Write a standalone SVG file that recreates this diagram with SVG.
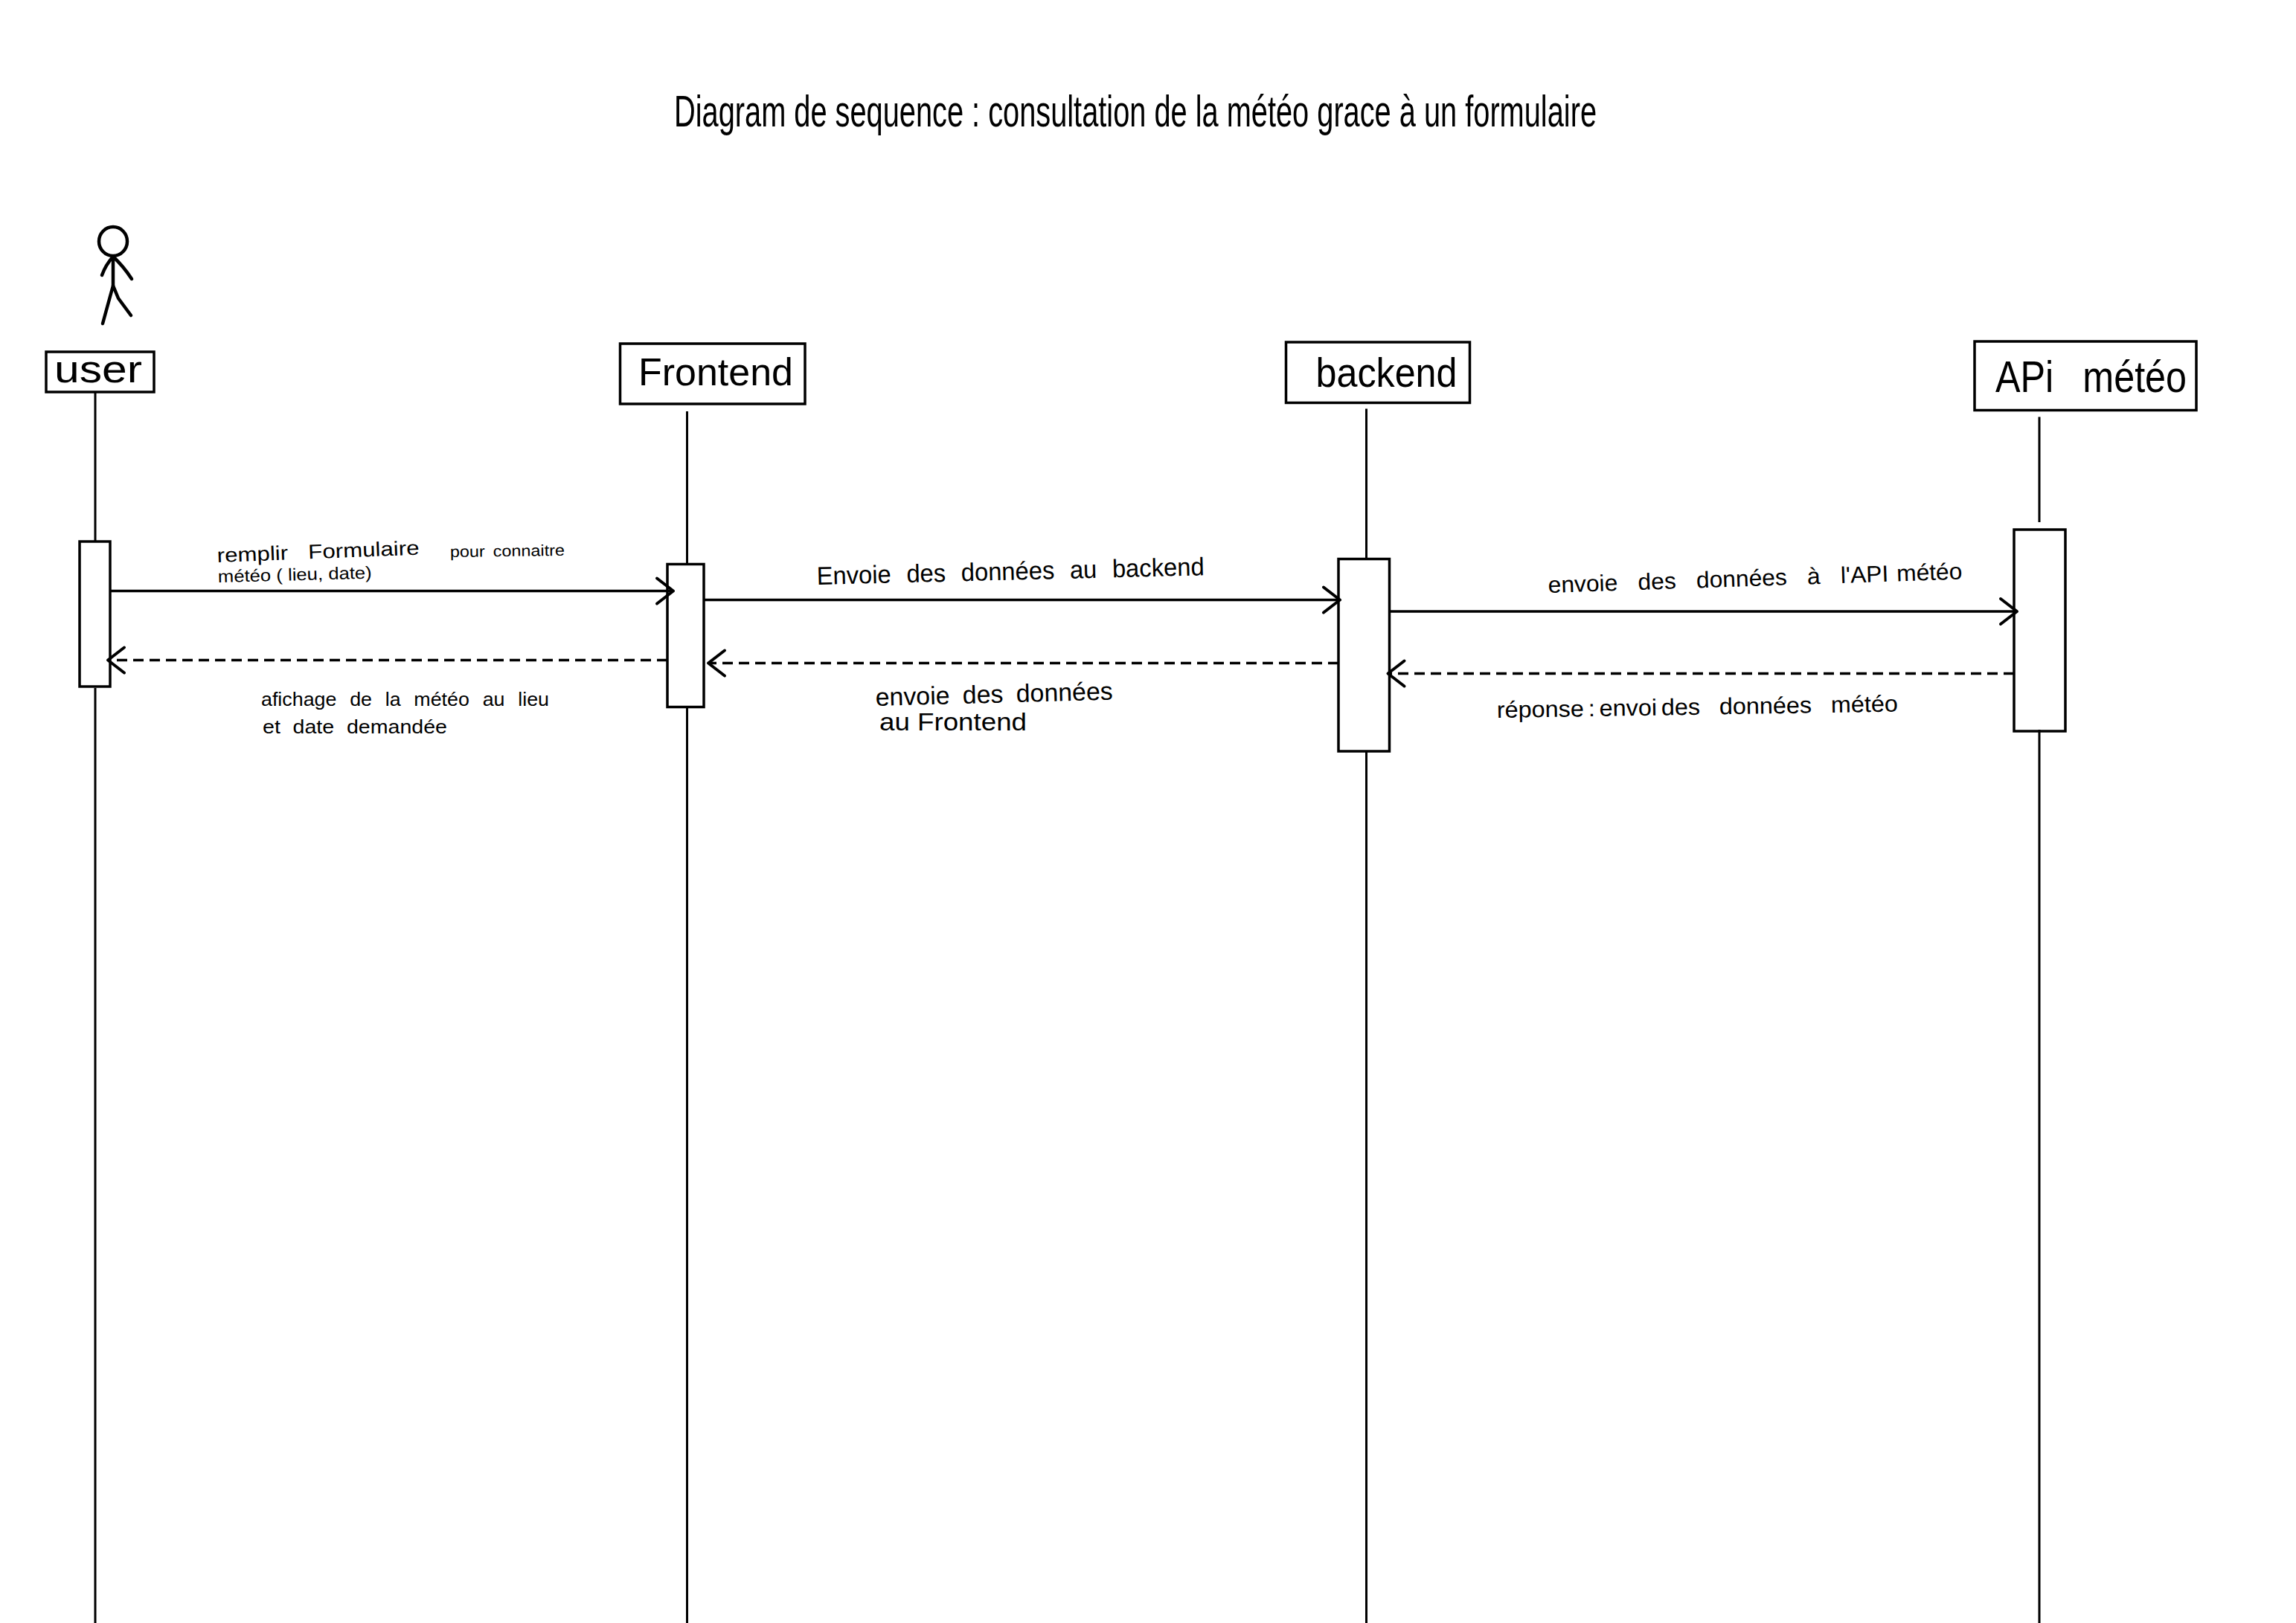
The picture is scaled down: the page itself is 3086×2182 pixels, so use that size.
<svg xmlns="http://www.w3.org/2000/svg" width="3086" height="2182" viewBox="0 0 3086 2182">
<style>
text{font-family:"Liberation Sans",Arial,sans-serif;fill:#000;stroke:none}
.box{fill:#fff;stroke:#000;stroke-width:3.5}
.act{fill:#fff;stroke:#000;stroke-width:3.5}
.life{stroke:#000;stroke-width:3;fill:none}
.msg{stroke:#000;stroke-width:3.5;fill:none}
.dash{stroke-dasharray:14 8}
.solid{marker-end:url(#open)}
.dashed{marker-end:url(#open)}
.stick{fill:none;stroke:#000;stroke-width:4.5;stroke-linecap:round;stroke-linejoin:round}
</style>
<defs>
<marker id="open" markerUnits="userSpaceOnUse" markerWidth="34" markerHeight="44" refX="27" refY="22" orient="auto">
<path d="M5 5 L27 22 L5 39" fill="none" stroke="#000" stroke-width="4" stroke-linecap="round" stroke-linejoin="round"/>
</marker>
</defs>
<rect width="3086" height="2182" fill="#fff"/>
<text id="title" x="906" y="170" font-size="60" textLength="1240" lengthAdjust="spacingAndGlyphs">Diagram de sequence : consultation de la météo grace à un formulaire</text>

<g id="node-user">
<g id="actor-figure" class="stick">
<ellipse cx="152" cy="324.5" rx="19" ry="19.5"/>
<path d="M152 345 L152 384"/>
<path d="M137 370 Q142 356 152 345 Q166 358 177 375"/>
<path d="M138 435 L152 384 L159 401 L176 424"/>
</g>
<rect class="box" x="62" y="473" width="145" height="54"/>
<text x="73" y="514" font-size="52" textLength="118" lengthAdjust="spacingAndGlyphs">user</text>
<rect class="act" x="107" y="728" width="41" height="195"/>
</g>
<g id="node-frontend">
<rect class="box" x="833.5" y="462" width="248.5" height="81"/>
<text x="858" y="518" font-size="52" textLength="208" lengthAdjust="spacingAndGlyphs">Frontend</text>
<rect class="act" x="897" y="758.5" width="49" height="192"/>
</g>
<g id="node-backend">
<rect class="box" x="1728.5" y="460" width="247" height="81.5"/>
<text x="1768.5" y="520" font-size="56" textLength="190" lengthAdjust="spacingAndGlyphs">backend</text>
<rect class="act" x="1799" y="751.5" width="68.5" height="258.5"/>
</g>
<g id="node-api">
<rect class="box" x="2654" y="459" width="298" height="92.5"/>
<text x="2682" y="527" font-size="60" word-spacing="30" textLength="257" lengthAdjust="spacingAndGlyphs">APi météo</text>
<rect class="act" x="2707" y="712" width="69" height="271"/>
</g>

<g id="connectors">
<path class="life" d="M128 527V728M128 925V2182"/>
<path class="life" d="M923.5 553V758M923.5 950V2182"/>
<path class="life" d="M1836.5 549.5V751M1836.5 1010V2182"/>
<path class="life" d="M2741 560.5V702M2741 981V2182"/>
<line class="msg solid" x1="148" y1="794.5" x2="905" y2="794.5"/>
<line class="msg dash dashed" x1="897" y1="887.5" x2="145" y2="887.5"/>
<line class="msg solid" x1="946" y1="806.5" x2="1801" y2="806.5"/>
<line class="msg dash dashed" x1="1799" y1="891.5" x2="952" y2="891.5"/>
<line class="msg solid" x1="1867.5" y1="822" x2="2711" y2="822"/>
<line class="msg dash dashed" x1="2707" y1="905.5" x2="1865.5" y2="905.5"/>
</g>

<g id="labels">
<text transform="translate(292 756) rotate(-2.2)" font-size="27" word-spacing="16" textLength="272" lengthAdjust="spacingAndGlyphs">remplir Formulaire</text>
<text transform="translate(605 749) rotate(-0.8)" font-size="21" word-spacing="4" textLength="154" lengthAdjust="spacingAndGlyphs">pour connaitre</text>
<text transform="translate(293 783) rotate(-1.5)" font-size="23" textLength="207" lengthAdjust="spacingAndGlyphs">météo ( lieu, date)</text>
<text x="351" y="949" font-size="26" word-spacing="10" textLength="387" lengthAdjust="spacingAndGlyphs">afichage de la météo au lieu</text>
<text x="353" y="986" font-size="26" word-spacing="8" textLength="248" lengthAdjust="spacingAndGlyphs">et date demandée</text>
<text transform="translate(1098 786) rotate(-1.4)" font-size="34" word-spacing="12" textLength="521" lengthAdjust="spacingAndGlyphs">Envoie des données au <tspan word-spacing="0">backend</tspan></text>
<text transform="translate(1177 949) rotate(-1.5)" font-size="34" word-spacing="8" textLength="319" lengthAdjust="spacingAndGlyphs">envoie des données</text>
<text x="1182" y="982" font-size="34" textLength="198" lengthAdjust="spacingAndGlyphs">au Frontend</text>
<text transform="translate(2081 797) rotate(-1.9)" font-size="31" word-spacing="18" textLength="557" lengthAdjust="spacingAndGlyphs">envoie des données à <tspan word-spacing="2">l'API météo</tspan></text>
<text transform="translate(2012 965) rotate(-0.9)" font-size="31" word-spacing="16" textLength="539" lengthAdjust="spacingAndGlyphs"><tspan word-spacing="-3">réponse : envoi </tspan>des données météo</text>
</g>
</svg>
